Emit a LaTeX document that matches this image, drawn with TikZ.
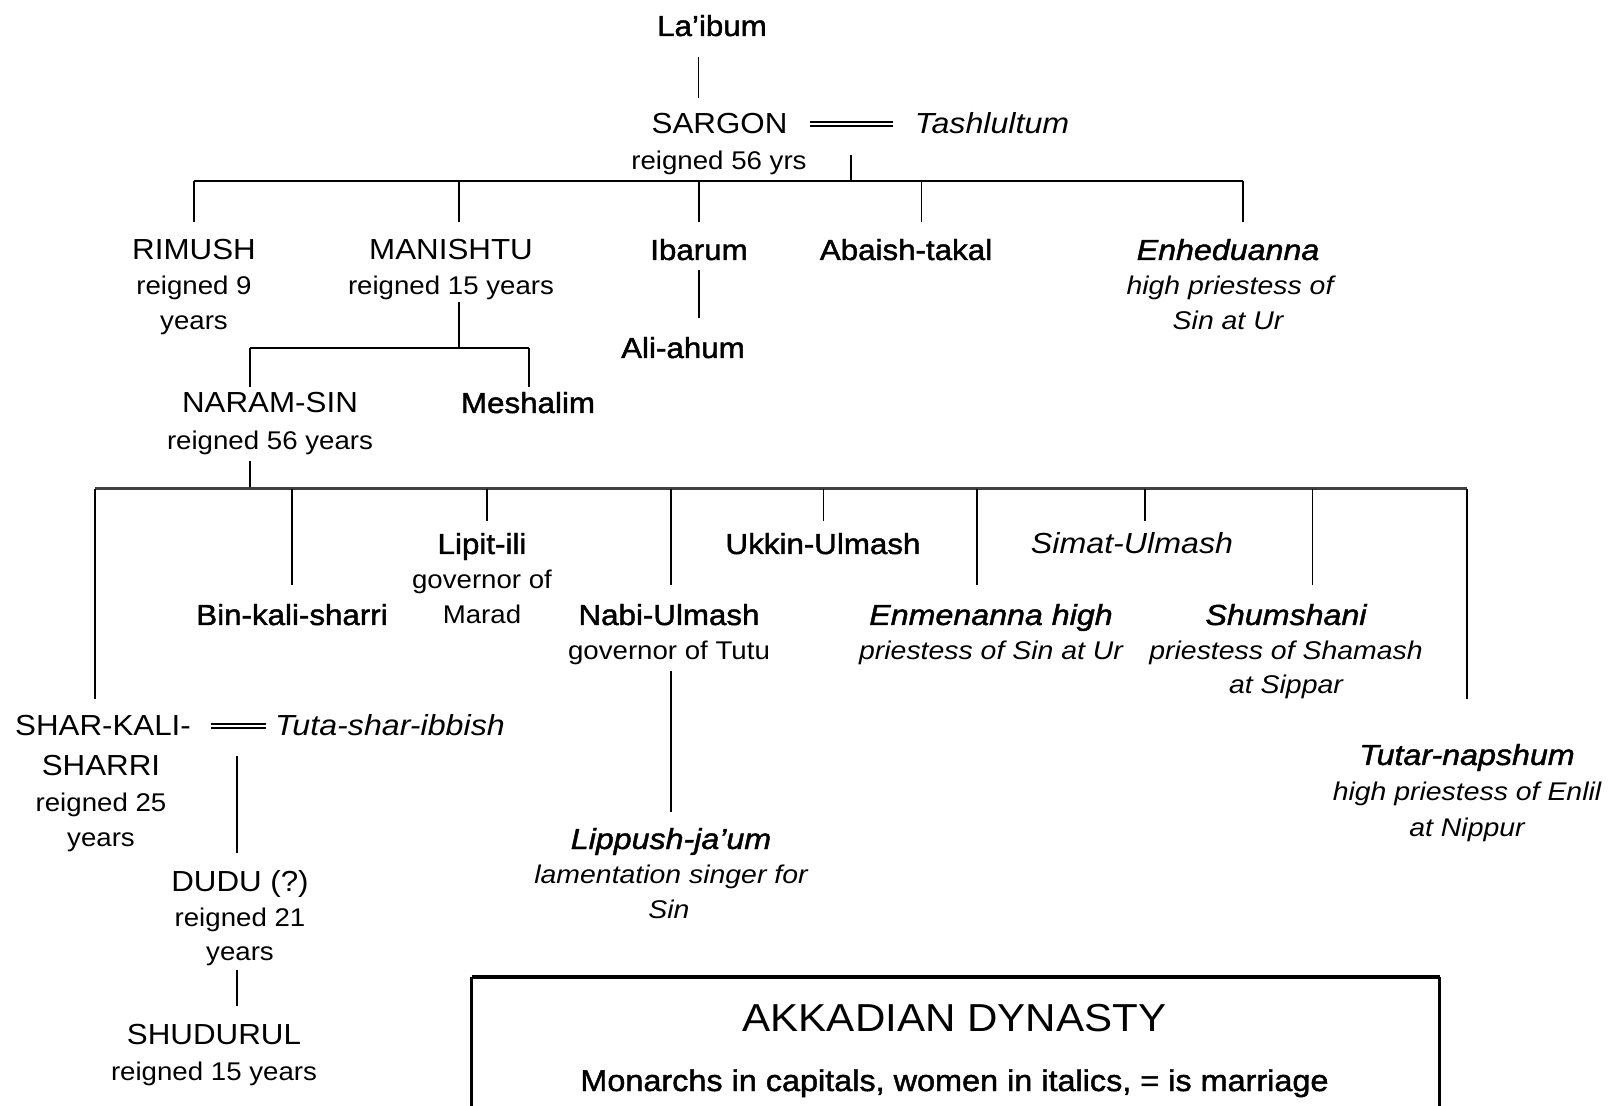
\documentclass[tikz,border=0pt]{standalone}
\usepackage{fontspec}
\setmainfont{Liberation Sans}[FakeStretch=1.08,ItalicFeatures={FakeStretch=1.11}]
\newfontfamily\hvy{Liberation Sans}[FakeStretch=1.08,FakeBold=1.5,ItalicFeatures={FakeStretch=1.11}]
\tikzset{
 tNm/.style={inner sep=0pt, anchor=base, font=\fontsize{14.5}{17}\selectfont},
 tHv/.style={tNm, font=\hvy\fontsize{14.5}{17}\selectfont},
 tHi/.style={tNm, font=\hvy\itshape\fontsize{14.5}{17}\selectfont},
 tIt/.style={tNm, font=\itshape\fontsize{14.5}{17}\selectfont},
 tSb/.style={inner sep=0pt, anchor=base, font=\fontsize{12.8}{17}\selectfont},
 tSi/.style={tSb, font=\itshape\fontsize{12.8}{17}\selectfont},
 lnk/.style={line width=0.8pt},
 barline/.style={line width=1.1pt},
 marr/.style={double, double distance=1.3pt, line width=0.9pt},
}
\begin{document}
\begin{tikzpicture}[x=0.5pt,y=-0.5pt]
\useasboundingbox (0,0) rectangle (1618,1106);
% ---- text nodes
\node[tHv] (laibum) at (712,36) {La’ibum};
\node[tNm] (sargon) at (719.5,134) {SARGON};
\node[tSb] (sargon2) at (719,170) {reigned 56 yrs};
\node[tIt] (tash) at (992,134) {Tashlultum};
\node[tNm] (rimush) at (194,260) {RIMUSH};
\node[tSb] (rimush2) at (194,295) {reigned 9};
\node[tSb] (rimush3) at (194,330) {years};
\node[tNm] (manishtu) at (451,260) {MANISHTU};
\node[tSb] (manishtu2) at (451,295) {reigned 15 years};
\node[tHv] (ibarum) at (699,260) {Ibarum};
\node[tHv] (aliahum) at (683,358) {Ali-ahum};
\node[tHv] (abaish) at (906,260) {Abaish-takal};
\node[tHi] (enhed) at (1228,260) {Enheduanna};
\node[tSi] (enhed2) at (1230,295) {high priestess of};
\node[tSi] (enhed3) at (1228,330) {Sin at Ur};
\node[tNm] (naram) at (270,413) {NARAM-SIN};
\node[tSb] (naram2) at (270,450) {reigned 56 years};
\node[tHv] (meshalim) at (528,413) {Meshalim};
\node[tHv] (lipit) at (482,554) {Lipit-ili};
\node[tSb] (lipit2) at (482,589) {governor of};
\node[tSb] (lipit3) at (482,624) {Marad};
\node[tHv] (ukkin) at (823,554) {Ukkin-Ulmash};
\node[tIt] (simat) at (1132,554) {Simat-Ulmash};
\node[tHv] (binkali) at (292,625) {Bin-kali-sharri};
\node[tHv] (nabi) at (669,625) {Nabi-Ulmash};
\node[tSb] (nabi2) at (669,660) {governor of Tutu};
\node[tHi] (enmen) at (991,625) {Enmenanna high};
\node[tSi] (enmen2) at (991,660) {priestess of Sin at Ur};
\node[tHi] (shum) at (1286,625) {Shumshani};
\node[tSi] (shum2) at (1286,660) {priestess of Shamash};
\node[tSi] (shum3) at (1286,694) {at Sippar};
\node[tNm] (sharkali) at (103,736) {SHAR-KALI-};
\node[tNm] (sharkali2) at (101,776) {SHARRI};
\node[tSb] (sharkali3) at (101,812) {reigned 25};
\node[tSb] (sharkali4) at (101,846) {years};
\node[tIt] (tuta) at (390,736) {Tuta-shar-ibbish};
\node[tNm] (dudu) at (240,892) {DUDU (?)};
\node[tSb] (dudu2) at (240,926) {reigned 21};
\node[tSb] (dudu3) at (240,960) {years};
\node[tNm] (shudurul) at (214,1044) {SHUDURUL};
\node[tSb] (shudurul2) at (214,1080) {reigned 15 years};
\node[tHi] (lippush) at (671,849) {Lippush-ja’um};
\node[tSi] (lippush2) at (671,884) {lamentation singer for};
\node[tSi] (lippush3) at (669,918) {Sin};
\node[tHi] (tutar) at (1467,765) {Tutar-napshum};
\node[tSi] (tutar2) at (1467,800) {high priestess of Enlil};
\node[tSi] (tutar3) at (1467,836) {at Nippur};
% ---- legend box
\coordinate (boxBL) at (471.6,1112);
\coordinate (boxTL) at (471.6,977);
\coordinate (boxTR) at (1439.5,977);
\coordinate (boxBR) at (1439.5,1112);
\draw[line width=1.2pt] (boxBL) -- (boxTL);
\draw[line width=1.5pt] (boxTR) -- (boxBR);
\draw[line width=2.2pt] (boxTL) -- (boxTR);
\node[inner sep=0pt, anchor=base, font=\fontsize{19.5}{22}\selectfont] (title) at (954.5,1031) {AKKADIAN DYNASTY};
\node[inner sep=0pt, anchor=base, font=\hvy\fontsize{15}{18}\selectfont] (legend) at (954.5,1091) {Monarchs in capitals, women in italics, = is marriage};
% ---- coordinates
\coordinate (laiB) at (698.6,57);
\coordinate (sarT) at (698.6,98);
\coordinate (m1a) at (810,124);
\coordinate (m1b) at (893,124);
\coordinate (c1) at (851,155);
\coordinate (bar1) at (851,181);
\coordinate (bar1L) at (194,181);
\coordinate (bar1R) at (1243,181);
\coordinate (dRim) at (194,222);
\coordinate (dMan) at (459,222);
\coordinate (dIba) at (699,222);
\coordinate (dAba) at (921.5,222);
\coordinate (dEnh) at (1243,222);
\coordinate (ibaB) at (699,270);
\coordinate (aliT) at (699,318);
\coordinate (manB) at (459,302);
\coordinate (bar2) at (459,348);
\coordinate (bar2L) at (250,348);
\coordinate (bar2R) at (529,348);
\coordinate (dNar) at (250,387);
\coordinate (dMes) at (529,387);
\coordinate (narB) at (250,461);
\coordinate (bar3) at (250,489);
\coordinate (bar3L) at (95,489);
\coordinate (bar3R) at (1467,489);
\coordinate (dSha) at (95,699);
\coordinate (dBin) at (292,585);
\coordinate (dLip) at (487,521);
\coordinate (dNab) at (671,585);
\coordinate (dUkk) at (823.5,521);
\coordinate (dEnm) at (977,585);
\coordinate (dSim) at (1145,521);
\coordinate (dShu) at (1312.6,585);
\coordinate (dTut) at (1467,699);
\coordinate (nabB) at (671,671);
\coordinate (lipT) at (671,812);
\coordinate (m2a) at (211,726);
\coordinate (m2b) at (266,726);
\coordinate (c2) at (237,756);
\coordinate (dudT) at (237,853);
\coordinate (dudB) at (237,970);
\coordinate (shdT) at (237,1006);
% ---- connectors
\draw[lnk] (laiB) -- (sarT);
\draw[marr] (m1a) -- (m1b);
\draw[lnk] (c1) -- (bar1);
\draw[barline] (bar1L) -- (bar1R);
\foreach \d in {dRim,dMan,dIba,dAba,dEnh} \draw[lnk] (\d |- bar1) -- (\d);
\draw[lnk] (ibaB) -- (aliT);
\draw[lnk] (manB) -- (bar2);
\draw[barline] (bar2L) -- (bar2R);
\foreach \d in {dNar,dMes} \draw[lnk] (\d |- bar2) -- (\d);
\draw[lnk] (narB) -- (bar3);
\draw[line width=1.5pt, black!75] (bar3L) -- (bar3R);
\foreach \d in {dSha,dBin,dLip,dNab,dUkk,dEnm,dSim,dShu,dTut} \draw[lnk] (\d |- bar3) -- (\d);
\draw[lnk] (nabB) -- (lipT);
\draw[marr] (m2a) -- (m2b);
\draw[lnk] (c2) -- (dudT);
\draw[lnk] (dudB) -- (shdT);
\end{tikzpicture}
\end{document}
